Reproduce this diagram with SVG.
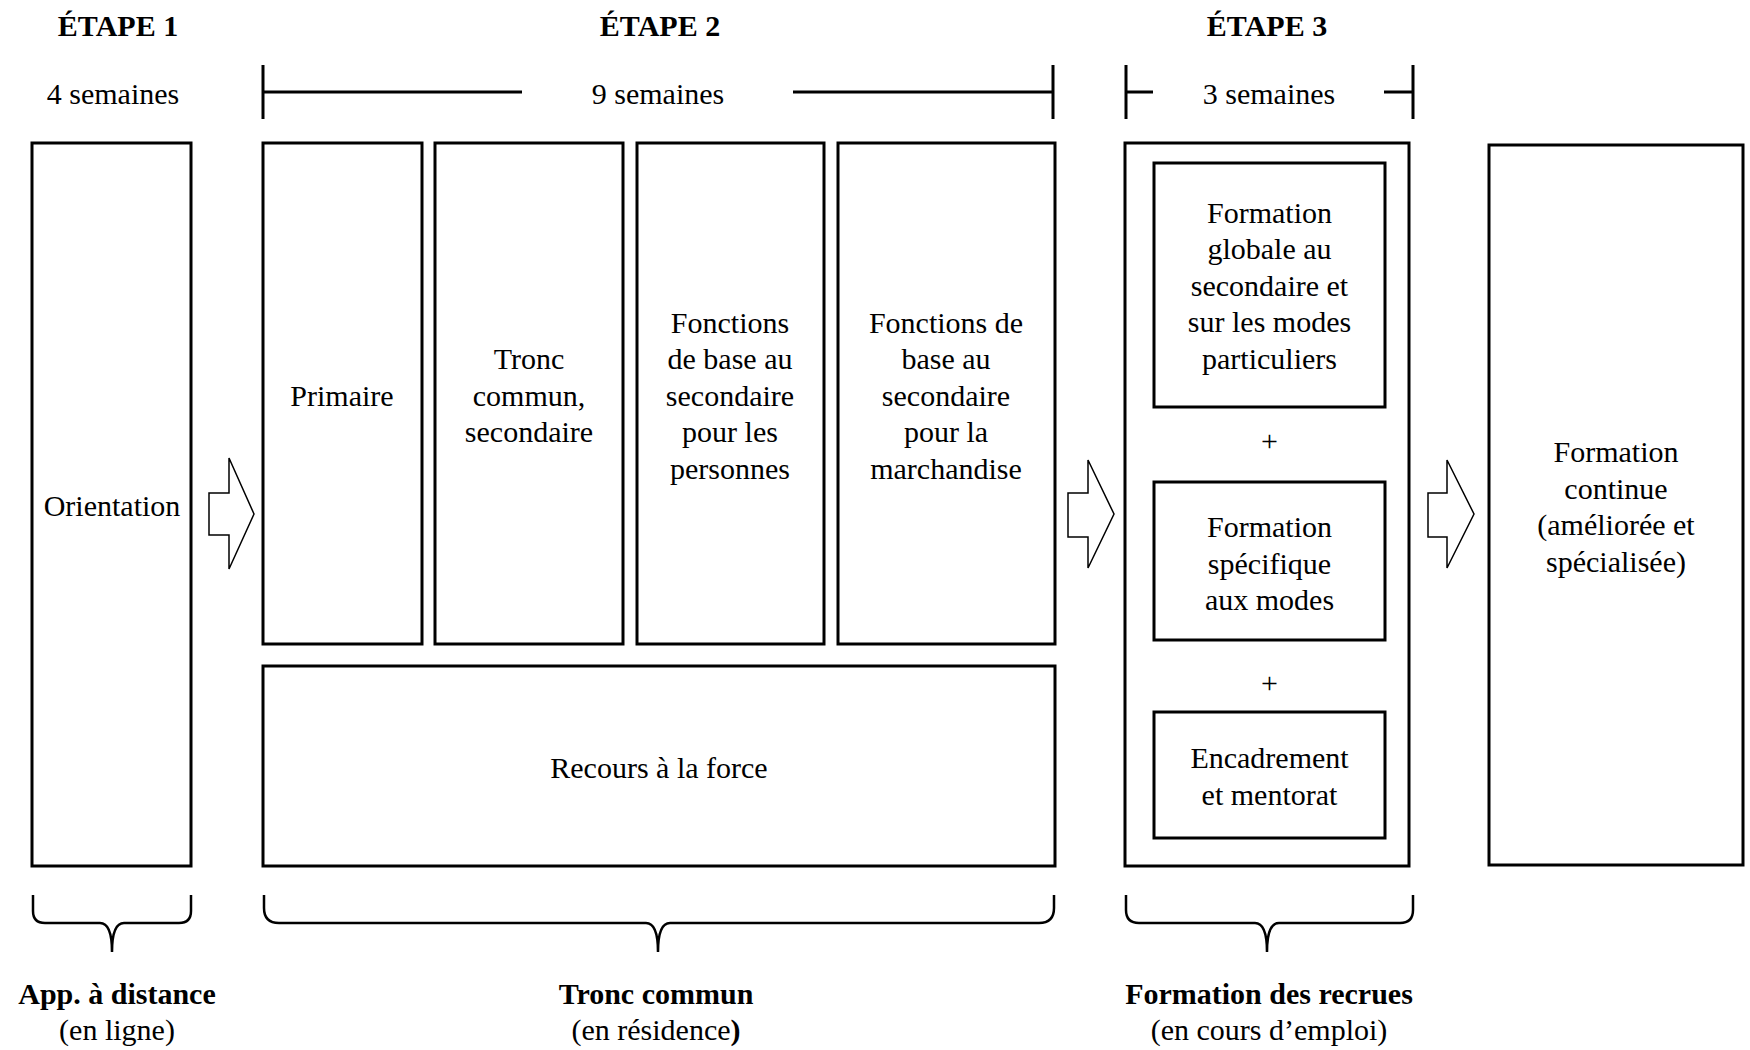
<svg xmlns="http://www.w3.org/2000/svg" width="1750" height="1050" viewBox="0 0 1750 1050">
<style>
text{font-family:"Liberation Serif",serif;font-size:30px;fill:#000;text-anchor:middle}
.b{font-weight:bold}
.box{fill:#fff;stroke:#000;stroke-width:3}
.arrow{fill:#fff;stroke:#000;stroke-width:1.5;stroke-linejoin:miter}
.bar{stroke:#000;stroke-width:3;fill:none}
.brace{stroke:#000;stroke-width:2.5;fill:none}
</style>
<rect width="1750" height="1050" fill="#fff"/>

<g id="headers">
<text class="b" x="118" y="36">ÉTAPE 1</text>
<text class="b" x="660" y="36">ÉTAPE 2</text>
<text class="b" x="1267" y="36">ÉTAPE 3</text>
<text x="113" y="104">4 semaines</text>
<text x="658" y="104">9 semaines</text>
<text x="1269" y="104">3 semaines</text>
</g>

<g id="durations">
<path class="bar" d="M263,65 V119 M263,92 H522 M793,92 H1053 M1053,65 V119"/>
<path class="bar" d="M1126,65 V119 M1126,92 H1153 M1384,92 H1413 M1413,65 V119"/>
</g>

<g id="orientation">
<rect class="box" x="32" y="143" width="159" height="723"/>
<text x="112" y="516">Orientation</text>
</g>

<g id="primaire">
<rect class="box" x="263" y="143" width="159" height="501"/>
<text x="342" y="406">Primaire</text>
</g>

<g id="tronc-commun">
<rect class="box" x="435" y="143" width="188" height="501"/>
<text x="529" y="369">Tronc</text>
<text x="529" y="405.5">commun,</text>
<text x="529" y="442">secondaire</text>
</g>

<g id="fonctions-personnes">
<rect class="box" x="637" y="143" width="187" height="501"/>
<text x="730" y="333">Fonctions</text>
<text x="730" y="369">de base au</text>
<text x="730" y="405.5">secondaire</text>
<text x="730" y="442">pour les</text>
<text x="730" y="478.5">personnes</text>
</g>

<g id="fonctions-marchandise">
<rect class="box" x="838" y="143" width="217" height="501"/>
<text x="946" y="333">Fonctions de</text>
<text x="946" y="369">base au</text>
<text x="946" y="405.5">secondaire</text>
<text x="946" y="442">pour la</text>
<text x="946" y="478.5">marchandise</text>
</g>

<g id="recours-force">
<rect class="box" x="263" y="666" width="792" height="200"/>
<text x="659" y="778">Recours à la force</text>
</g>

<g id="etape3">
<rect class="box" x="1125" y="143" width="284" height="723"/>
</g>

<g id="formation-globale">
<rect class="box" x="1154" y="163" width="231" height="244"/>
<text x="1269.5" y="222.5">Formation</text>
<text x="1269.5" y="259">globale au</text>
<text x="1269.5" y="295.5">secondaire et</text>
<text x="1269.5" y="332">sur les modes</text>
<text x="1269.5" y="368.5">particuliers</text>
</g>

<g id="plus1"><text x="1269.5" y="451">+</text></g>

<g id="formation-specifique">
<rect class="box" x="1154" y="482" width="231" height="158"/>
<text x="1269.5" y="537">Formation</text>
<text x="1269.5" y="573.5">spécifique</text>
<text x="1269.5" y="610">aux modes</text>
</g>

<g id="plus2"><text x="1269.5" y="693">+</text></g>

<g id="encadrement">
<rect class="box" x="1154" y="712" width="231" height="126"/>
<text x="1269.5" y="768">Encadrement</text>
<text x="1269.5" y="804.5">et mentorat</text>
</g>

<g id="formation-continue">
<rect class="box" x="1489" y="145" width="254" height="720"/>
<text x="1616" y="462">Formation</text>
<text x="1616" y="498.5">continue</text>
<text x="1616" y="535">(améliorée et</text>
<text x="1616" y="571.5">spécialisée)</text>
</g>

<g id="connectors">
<polygon class="arrow" points="209,493 229,493 229,458 254,514 229,569 229,535 209,535"/>
<polygon class="arrow" points="1068,493 1088,493 1088,460 1114,514 1088,568 1088,537 1068,537"/>
<polygon class="arrow" points="1428,493 1447,493 1447,460 1474,514 1447,568 1447,537 1428,537"/>
</g>

<g id="braces">
<path class="brace" d="M33,895 V911 Q33,923 45,923 H100 Q112,923 112,952 Q112,923 124,923 H179 Q191,923 191,911 V895"/>
<path class="brace" d="M264,895 V908 Q264,923 279,923 H646 Q658,923 658,952 Q658,923 670,923 H1039 Q1054,923 1054,908 V895"/>
<path class="brace" d="M1126,895 V910 Q1126,923 1139,923 H1255 Q1267,923 1267,952 Q1267,923 1279,923 H1400 Q1413,923 1413,910 V895"/>
</g>

<g id="footers">
<text class="b" x="117" y="1004">App. à distance</text>
<text x="117" y="1040">(en ligne)</text>
<text class="b" x="656" y="1004">Tronc commun</text>
<text x="656" y="1040">(en résidence<tspan class="b">)</tspan></text>
<text class="b" x="1269" y="1004">Formation des recrues</text>
<text x="1269" y="1040">(en cours d’emploi)</text>
</g>
</svg>
